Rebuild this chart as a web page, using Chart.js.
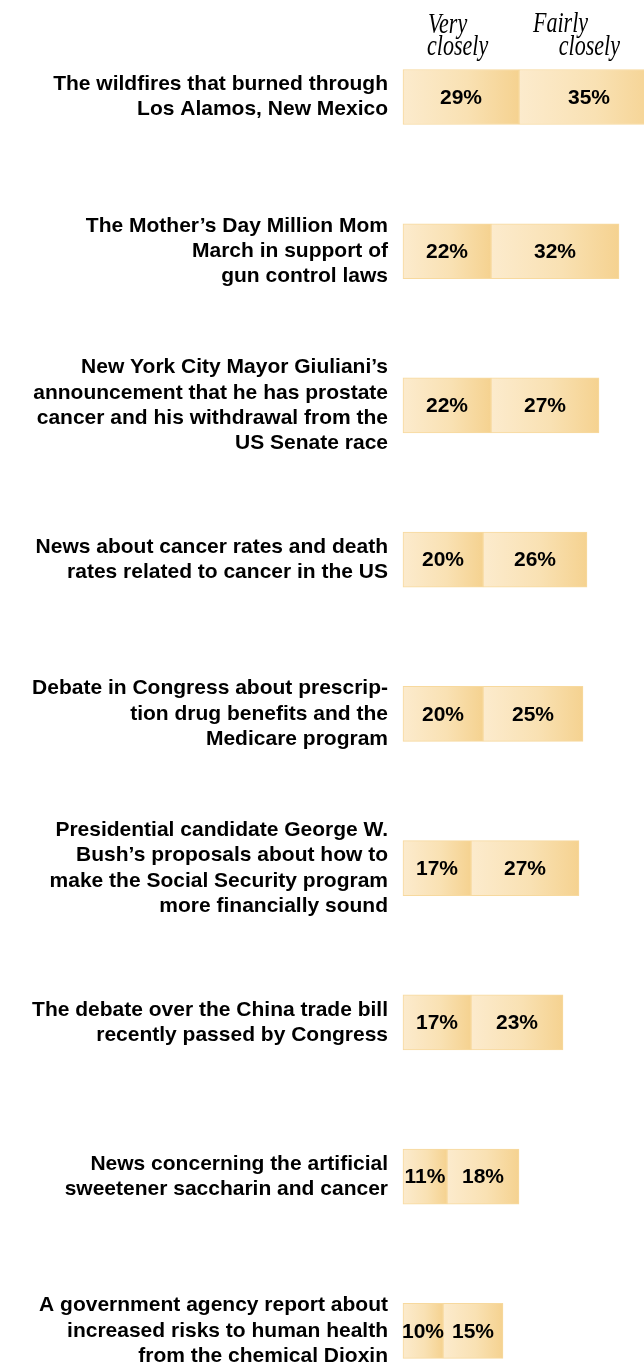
<!DOCTYPE html>
<html>
<head>
<meta charset="utf-8">
<script src="https://cdn.jsdelivr.net/npm/chart.js@4.4.1/dist/chart.umd.min.js"></script>
<style>
  html, body { margin: 0; padding: 0; background: #ffffff; }
  #wrap { position: relative; width: 644px; height: 1371px; }
</style>
</head>
<body>
<div id="wrap"><canvas id="chart" width="644" height="1371"></canvas></div>
<script>
// row labels (multi-line, as printed)
const categories = [
    ['The wildfires that burned through', 'Los Alamos, New Mexico'],
    ['The Mother\u2019s Day Million Mom', 'March in support of', 'gun control laws'],
    ['New York City Mayor Giuliani\u2019s', 'announcement that he has prostate', 'cancer and his withdrawal from the', 'US Senate race'],
    ['News about cancer rates and death', 'rates related to cancer in the US'],
    ['Debate in Congress about prescrip-', 'tion drug benefits and the', 'Medicare program'],
    ['Presidential candidate George W.', 'Bush\u2019s proposals about how to', 'make the Social Security program', 'more financially sound'],
    ['The debate over the China trade bill', 'recently passed by Congress'],
    ['News concerning the artificial', 'sweetener saccharin and cancer'],
    ['A government agency report about', 'increased risks to human health', 'from the chemical Dioxin'],
];

const veryClosely = [29, 22, 22, 20, 20, 17, 17, 11, 10];
const fairlyClosely = [35, 32, 27, 26, 25, 27, 23, 18, 15];

const seriesHeaders = [['Very', 'closely'], ['Fairly', 'closely']];

const sansFont = '"Liberation Sans", Arial, Helvetica, sans-serif';
const serifFont = '"Liberation Serif", "Times New Roman", serif';

// left-light to right-gold fill for each segment
function segmentFill(context) {
    const chart = context.chart;
    const area = chart.chartArea;
    if (!area) return '#f8dfae';
    const x = chart.scales.x;
    const i = context.dataIndex;
    let start = 0, end = veryClosely[i];
    if (context.datasetIndex === 1) {
        start = veryClosely[i];
        end = veryClosely[i] + fairlyClosely[i];
    }
    const x0 = x.getPixelForValue(start);
    const x1 = x.getPixelForValue(end);
    const g = chart.ctx.createLinearGradient(x0, 0, x1, 0);
    g.addColorStop(0, '#fcebcd');
    g.addColorStop(0.55, '#f9e1b3');
    g.addColorStop(1, '#f5d290');
    return g;
}

const valueLabels = {
    id: 'valueLabels',
    afterDatasetsDraw(chart) {
        const ctx = chart.ctx;
        ctx.save();
        ctx.font = 'bold 21px ' + sansFont;
        ctx.fillStyle = '#000';
        ctx.textAlign = 'center';
        ctx.textBaseline = 'middle';
        chart.data.datasets.forEach((ds, di) => {
            const meta = chart.getDatasetMeta(di);
            meta.data.forEach((bar, i) => {
                const p = bar.getCenterPoint();
                ctx.fillText(ds.data[i] + '%', p.x, p.y + 1);
            });
        });
        ctx.restore();
    }
};

// italic column heads above the bars
const columnHeads = {
    id: 'columnHeads',
    afterDraw(chart) {
        const ctx = chart.ctx;
        const left = chart.chartArea.left;
        ctx.save();
        ctx.fillStyle = '#000';
        ctx.font = 'italic 29px ' + serifFont;
        ctx.textBaseline = 'alphabetic';
        const sx = 0.76;
        ctx.scale(sx, 1);
        ctx.textAlign = 'left';
        ctx.fillText(seriesHeaders[0][0], (left + 25) / sx, 33);
        ctx.fillText(seriesHeaders[0][1], (left + 24) / sx, 55);
        ctx.fillText(seriesHeaders[1][0], (left + 130) / sx, 32);
        ctx.textAlign = 'right';
        ctx.fillText(seriesHeaders[1][1], (left + 217) / sx, 55);
        ctx.restore();
    }
};

new Chart(document.getElementById('chart'), {
    type: 'bar',
    data: {
        labels: categories,
        datasets: [
            {
                label: 'Very closely',
                data: veryClosely,
                backgroundColor: segmentFill,
                borderColor: '#f7d99e',
                borderWidth: 1,
                borderSkipped: false,
                barThickness: 55,
                clip: false,
            },
            {
                label: 'Fairly closely',
                data: fairlyClosely,
                backgroundColor: segmentFill,
                borderColor: '#f7d99e',
                borderWidth: 1,
                borderSkipped: false,
                barThickness: 55,
                clip: false,
            },
        ],
    },
    options: {
        indexAxis: 'y',
        responsive: false,
        animation: false,
        layout: { padding: { top: 97, bottom: 35, left: 0, right: 1 } },
        scales: {
            x: {
                stacked: true,
                display: false,
                min: 0,
                max: 60,
            },
            y: {
                stacked: true,
                offset: false,
                grid: { display: false, drawTicks: false },
                border: { display: false },
                afterFit: (scale) => { scale.width = 403; },
                ticks: {
                    autoSkip: false,
                    padding: 15,
                    color: '#000',
                    font: { family: sansFont, size: 21, weight: 'bold', lineHeight: 1.2 },
                },
            },
        },
        plugins: {
            legend: { display: false },
            tooltip: { enabled: false },
            title: { display: false },
        },
    },
    plugins: [valueLabels, columnHeads],
});
</script>
</body>
</html>
